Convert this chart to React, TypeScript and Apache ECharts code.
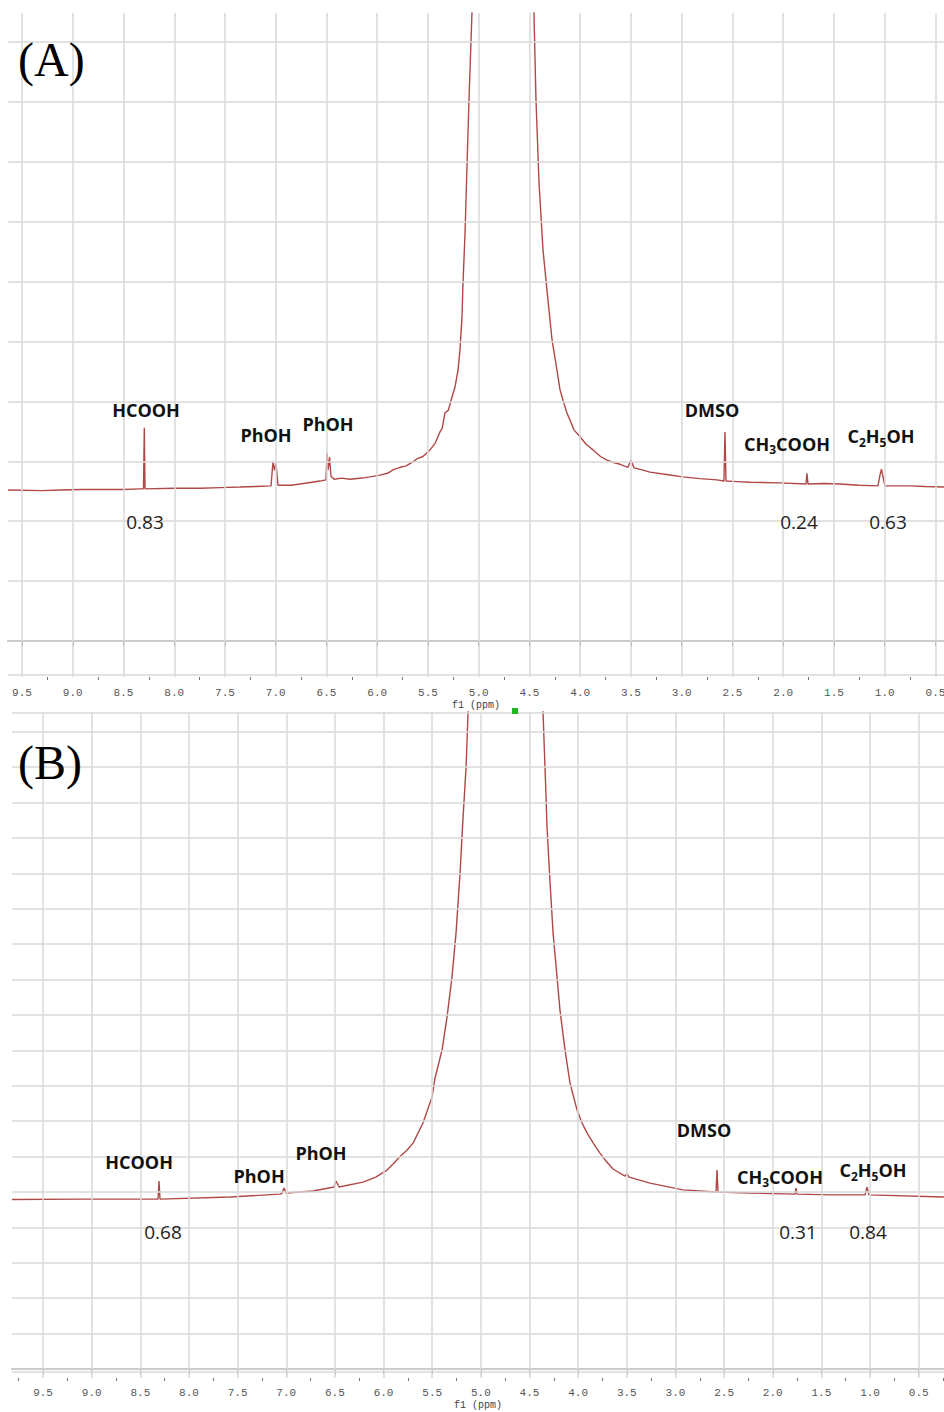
import React, { useEffect, useRef } from "react";
import * as echarts from "echarts";

// ---- Tick values (ppm) ----
const majorTicks = [9.5, 9.0, 8.5, 8.0, 7.5, 7.0, 6.5, 6.0, 5.5, 5.0, 4.5, 4.0, 3.5, 3.0, 2.5, 2.0, 1.5, 1.0, 0.5];
const minorTicks = [9.75, 9.25, 8.75, 8.25, 7.75, 7.25, 6.75, 6.25, 5.75, 5.25, 4.75, 4.25, 3.75, 3.25, 2.75, 2.25, 1.75, 1.25, 0.75, 0.25];

// ---- Panel A spectrum (ppm, intensity in grid units) ----
const ppmA = [9.638, 9.3, 9.126, 8.9, 8.732, 8.5, 8.337, 8.303, 8.295, 8.288, 8.0, 7.746, 7.55, 7.352, 7.2, 7.047, 7.027, 7.012, 6.998, 6.978, 6.85, 6.761, 6.564, 6.505, 6.495, 6.485, 6.47, 6.456, 6.426, 6.35, 6.269, 6.15, 6.071, 5.973, 5.9, 5.84, 5.776, 5.72, 5.648, 5.6, 5.55, 5.48, 5.43, 5.382, 5.36, 5.333, 5.3, 5.264, 5.234, 5.204, 5.185, 5.165, 5.155, 5.135, 5.116, 5.096, 5.067, 5.057, 4.76, 4.466, 4.456, 4.436, 4.406, 4.367, 4.318, 4.278, 4.229, 4.2, 4.17, 4.13, 4.101, 4.06, 4.002, 3.94, 3.874, 3.8, 3.736, 3.67, 3.608, 3.53, 3.5, 3.47, 3.4, 3.313, 3.15, 2.988, 2.82, 2.653, 2.584, 2.574, 2.564, 2.45, 2.328, 2.032, 1.776, 1.766, 1.756, 1.6, 1.441, 1.25, 1.067, 1.047, 1.032, 1.018, 0.998, 0.751, 0.6, 0.416];
const intA = [2.52, 2.51, 2.52, 2.53, 2.53, 2.53, 2.54, 2.54, 3.56, 2.54, 2.55, 2.55, 2.56, 2.57, 2.58, 2.59, 2.99, 2.85, 2.97, 2.6, 2.6, 2.62, 2.67, 2.69, 3.14, 2.85, 3.07, 2.75, 2.7, 2.72, 2.7, 2.72, 2.74, 2.77, 2.8, 2.86, 2.9, 2.92, 2.99, 3.05, 3.08, 3.19, 3.3, 3.49, 3.55, 3.81, 3.85, 4.07, 4.24, 4.52, 4.86, 5.41, 5.98, 6.81, 7.91, 9.03, 10.48, 11.0, 30, 11.0, 10.48, 9.03, 7.65, 6.53, 5.69, 5.03, 4.52, 4.2, 4.02, 3.8, 3.69, 3.52, 3.41, 3.28, 3.19, 3.08, 3.02, 2.98, 2.95, 2.9, 3.02, 2.89, 2.86, 2.82, 2.78, 2.74, 2.71, 2.69, 2.67, 3.49, 2.67, 2.66, 2.65, 2.64, 2.62, 2.8, 2.62, 2.63, 2.62, 2.6, 2.59, 2.77, 2.87, 2.75, 2.59, 2.59, 2.58, 2.57];

// ---- Panel B spectrum ----
const ppmB = [9.819, 9.12, 8.318, 8.308, 8.298, 7.578, 7.064, 7.044, 7.023, 7.003, 6.725, 6.509, 6.489, 6.458, 6.211, 6.08, 5.965, 5.9, 5.831, 5.76, 5.697, 5.595, 5.502, 5.471, 5.399, 5.348, 5.297, 5.255, 5.214, 5.183, 5.152, 5.132, 5.122, 4.75, 4.371, 4.361, 4.341, 4.32, 4.289, 4.258, 4.217, 4.187, 4.135, 4.084, 4.012, 3.96, 3.909, 3.84, 3.776, 3.71, 3.642, 3.519, 3.498, 3.477, 3.262, 2.922, 2.583, 2.573, 2.563, 2.234, 1.771, 1.761, 1.751, 1.381, 1.052, 1.031, 1.011, 0.24];
const intB = [4.79, 4.8, 4.8, 5.31, 4.8, 4.86, 4.94, 4.96, 5.11, 4.97, 5.03, 5.14, 5.31, 5.14, 5.28, 5.42, 5.62, 5.8, 6.0, 6.18, 6.38, 6.95, 7.68, 8.22, 9.01, 9.94, 11.07, 12.32, 14.01, 15.59, 17.01, 18.53, 19.2, 40, 19.2, 18.53, 17.01, 15.31, 13.73, 12.32, 11.07, 10.14, 9.01, 8.08, 7.32, 6.95, 6.67, 6.36, 6.1, 5.86, 5.65, 5.45, 5.51, 5.42, 5.25, 5.06, 5.0, 5.62, 5.0, 4.97, 4.94, 5.11, 4.94, 4.92, 4.92, 5.14, 4.92, 4.86];

// ---- Annotations: [rich text, ppm, y] ----
const labelsA: [string, number, number][] = [
  ["{main|HCOOH}", 8.278, 3.856],
  ["{main|PhOH}", 7.096, 3.439],
  ["{main|PhOH}", 6.485, 3.623],
  ["{main|DMSO}", 2.702, 3.856],
  ["{main|CH}{sub|3}{main|COOH}", 1.963, 3.289],
  ["{main|C}{sub|2}{main|H}{sub|5}{main|OH}", 1.037, 3.422],
  ["{num|0.83}", 8.288, 1.987],
  ["{num|0.24}", 1.845, 1.987],
  ["{num|0.63}", 0.968, 1.987],
];
const labelsB: [string, number, number][] = [
  ["{main|HCOOH}", 8.513, 5.847],
  ["{main|PhOH}", 7.28, 5.452],
  ["{main|PhOH}", 6.643, 6.102],
  ["{main|DMSO}", 2.707, 6.751],
  ["{main|CH}{sub|3}{main|COOH}", 1.926, 5.424],
  ["{main|C}{sub|2}{main|H}{sub|5}{main|OH}", 0.97, 5.621],
  ["{num|0.68}", 8.267, 3.87],
  ["{num|0.31}", 1.74, 3.87],
  ["{num|0.84}", 1.021, 3.87],
];

const gridLevelsA = [-0.559, 0, 1, 2, 3, 4, 5, 6, 7, 8, 9, 10];
const gridLevelsB = [-0.085, 0, 1, 2, 3, 4, 5, 6, 7, 8, 9, 10, 11, 12, 13, 14, 15, 16, 17, 18, 18.54];

const panels = [
  { top: 13, height: 664, left: 8, xMin: 0.416, xMax: 9.638, yMin: -0.601, yMax: 10.484, levels: gridLevelsA, ppm: ppmA, inten: intA, labels: labelsA, labelMargin: 10, nameGap: 23 },
  { top: 712, height: 666, left: 12, xMin: 0.24, xMax: 9.819, yMin: -0.254, yMax: 18.559, levels: gridLevelsB, ppm: ppmB, inten: intB, labels: labelsB, labelMargin: 9, nameGap: 22 },
];

const mono = "'Liberation Mono', 'DejaVu Sans Mono', monospace";
const sans = "'Open Sans', 'Noto Sans', sans-serif";
const rich = {
  main: { fontFamily: sans, fontWeight: "bold", fontSize: 18, color: "#111", lineHeight: 24 },
  sub: { fontFamily: sans, fontWeight: "bold", fontSize: 12, color: "#111", lineHeight: 12, verticalAlign: "bottom" },
  num: { fontFamily: sans, fontSize: 19, color: "#222", lineHeight: 24 },
};

function buildOption() {
  const grid: any[] = [];
  const xAxis: any[] = [];
  const yAxis: any[] = [];
  const series: any[] = [];
  panels.forEach((p, i) => {
    grid.push({ left: p.left, right: 0, top: p.top, height: p.height, containLabel: false, outerBoundsMode: "none" });
    const inRange = (v: number) => v >= p.xMin && v <= p.xMax;
    xAxis.push({
      gridIndex: i,
      type: "value",
      min: p.xMin,
      max: p.xMax,
      inverse: true,
      position: "bottom",
      name: "f1 (ppm)",
      nameLocation: "middle",
      nameGap: p.nameGap,
      nameTextStyle: { fontFamily: mono, fontSize: 10, color: "#444" },
      axisLine: { show: true, lineStyle: { color: "#8c8c8c", width: 1.5 } },
      axisTick: { show: true, customValues: majorTicks.filter(inRange), length: 5, lineStyle: { color: "#666", width: 1 } },
      axisLabel: {
        show: true,
        customValues: majorTicks.filter(inRange),
        margin: p.labelMargin,
        fontFamily: mono,
        fontSize: 11,
        color: "#555",
        hideOverlap: false,
        formatter: (v: number) => v.toFixed(1),
      },
      splitLine: { show: false },
    });
    xAxis.push({
      gridIndex: i,
      type: "value",
      min: p.xMin,
      max: p.xMax,
      inverse: true,
      position: "bottom",
      offset: 0,
      axisLine: { show: false },
      axisTick: { show: true, customValues: minorTicks.filter(inRange), length: 3, lineStyle: { color: "#777", width: 1 } },
      axisLabel: { show: false },
      splitLine: { show: false },
    });
    yAxis.push({ gridIndex: i, type: "value", min: p.yMin, max: p.yMax, show: false, splitLine: { show: false } });

    series.push({
      type: "line",
      xAxisIndex: i * 2,
      yAxisIndex: i,
      data: [],
      z: 1,
      silent: true,
      markLine: {
        silent: true,
        symbol: ["none", "none"],
        label: { show: false },
        lineStyle: { color: "#d9d9d9", width: 1.5, type: "solid" },
        data: [
          ...majorTicks.filter(inRange).map((v) => ({ xAxis: v })),
          ...p.levels.map((v) => ({ yAxis: v })),
        ],
      },
    });
    series.push({
      type: "line",
      xAxisIndex: i * 2,
      yAxisIndex: i,
      data: p.ppm.map((x, k) => [x, p.inten[k]]),
      showSymbol: false,
      symbol: "none",
      clip: true,
      z: 3,
      lineStyle: { color: "#b04848", width: 1.4 },
      markPoint: {
        silent: true,
        symbol: "circle",
        symbolSize: 1,
        itemStyle: { color: "rgba(0,0,0,0)" },
        label: { show: true, position: "inside", rich },
        data: p.labels.map(([t, x, y]) => ({
          coord: [x, y],
          value: 0,
          label: { formatter: () => t, rich },
        })),
      },
    });
  });

  return {
    animation: false,
    backgroundColor: "#ffffff",
    grid,
    xAxis,
    yAxis,
    series,
    graphic: [
      { type: "text", x: 18, y: 59, z: 10, style: { text: "(A)", fontFamily: "'Liberation Serif', serif", fontSize: 48, fill: "#000", align: "left", verticalAlign: "middle" } },
      { type: "text", x: 18, y: 762, z: 10, style: { text: "(B)", fontFamily: "'Liberation Serif', serif", fontSize: 48, fill: "#000", align: "left", verticalAlign: "middle" } },
      { type: "rect", z: 10, shape: { x: 512, y: 708, width: 6, height: 6 }, style: { fill: "#22b522" } },
    ],
  };
}

export default function App() {
  const ref = useRef<HTMLDivElement>(null);
  useEffect(() => {
    if (!ref.current) return;
    const chart = echarts.init(ref.current, null, { renderer: "svg" });
    chart.setOption(buildOption() as any);
    return () => chart.dispose();
  }, []);
  return (
    <div
      ref={ref}
      style={{ position: "absolute", left: 0, top: 0, width: 944, height: 1412, background: "#fff" }}
    />
  );
}
